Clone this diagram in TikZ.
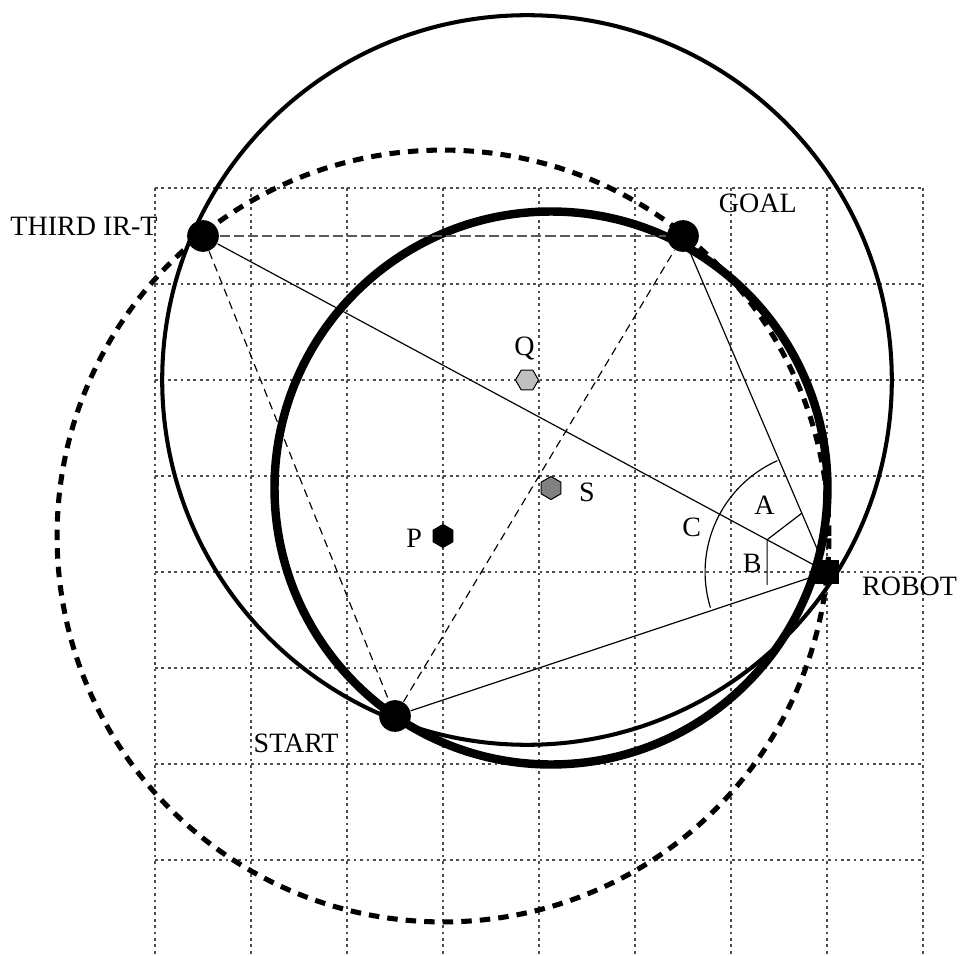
\documentclass[tikz,border=0pt]{standalone}
\usepackage{fontspec}
\setmainfont{Liberation Serif}
\usepackage{tikz}
\usetikzlibrary{shapes.geometric, backgrounds, calc}

\begin{document}
\begin{tikzpicture}[
    every node/.style={font=\fontsize{8.3}{10}\selectfont},
    gridline/.style={black!70, line width=0.35pt, dash pattern=on 0.8pt off 1.1pt},
    beacon/.style={circle, fill=black, minimum size=3.3mm, inner sep=0pt},
    robotbox/.style={rectangle, fill=black, minimum size=2.6mm, inner sep=0pt},
    hexa/.style={regular polygon, regular polygon sides=6, draw=black, line width=0.3pt,
                 minimum size=2.4mm, inner sep=0pt},
    lbl/.style={inner sep=0pt},
    ray/.style={black, line width=0.35pt},
    sight/.style={black, line width=0.35pt, dash pattern=on 2.4pt off 1.6pt},
    baseline/.style={black!65, line width=0.45pt, dash pattern=on 3pt off 1.2pt},
    circP/.style={line width=1.5pt, dash pattern=on 3.1pt off 2.4pt},
    circQ/.style={line width=1.2pt},
    circS/.style={line width=2.5pt},
  ]
    \useasboundingbox (-1.6146,-0.9896) rectangle (8.3958,8.9583);
    % beacons and robot
    \node[beacon] (third) at (0.5, 6.5) {};
    \node[beacon] (goal)  at (5.5, 6.5) {};
    \node[beacon] (start) at (2.5, 1.5) {};
    \node[robotbox] (robot) at (7.0, 3.0) {};
    % circle centres
    \node[hexa, fill=black, shape border rotate=30]   (p) at (3.0, 3.375) {};
    \node[hexa, fill=black!50, shape border rotate=30] (s) at (4.125, 3.875) {};
    \node[hexa, fill=black!25] (q) at (3.875, 5.0) {};
    % labels
    \node[lbl] (thirdlbl) at (-0.74, 6.60) {THIRD IR-T};
    \node[lbl] (goallbl)  at (6.28, 6.84) {GOAL};
    \node[lbl] (startlbl) at (1.47, 1.22) {START};
    \node[lbl] (robotlbl) at (7.86, 2.85) {ROBOT};
    \node[lbl] (plbl) at (2.70, 3.35) {P};
    \node[lbl] (qlbl) at (3.85, 5.33) {Q};
    \node[lbl] (slbl) at (4.50, 3.83) {S};
    \node[lbl] (albl) at (6.35, 3.70) {A};
    \node[lbl] (blbl) at (6.22, 3.09) {B};
    \node[lbl] (clbl) at (5.59, 3.47) {C};
    \begin{scope}[on background layer]
      % grid
      \foreach \i in {0,...,8}\draw[gridline] (\i,7) -- (\i,-0.99);
      \foreach \j in {0,...,7}\draw[gridline] (0,\j) -- (8,\j);
      % position circles
      \draw[circP] (p.center) circle[radius=4.02];
      \draw[circQ] (q.center) circle[radius=3.8];
      \draw[circS] (s.center) circle[radius=2.88];
      % sight lines
      \draw[baseline] (third) -- (goal);
      \draw[sight] (third) -- (start);
      \draw[sight] (start) -- (goal);
      \draw[ray] (third) -- (robot);
      \draw[ray] (goal) -- (robot);
      \draw[ray] (start) -- (robot);
      % angle marks
      \draw[ray] (robot.center) ++(114:1.27) arc[start angle=114, end angle=197, radius=1.27];
      \draw[ray] ($(robot)!0.175!(goal)$) -- ($(robot)!0.096!(third)$) -- ++(0,-0.47);
    \end{scope}
  \end{tikzpicture}
\end{document}
